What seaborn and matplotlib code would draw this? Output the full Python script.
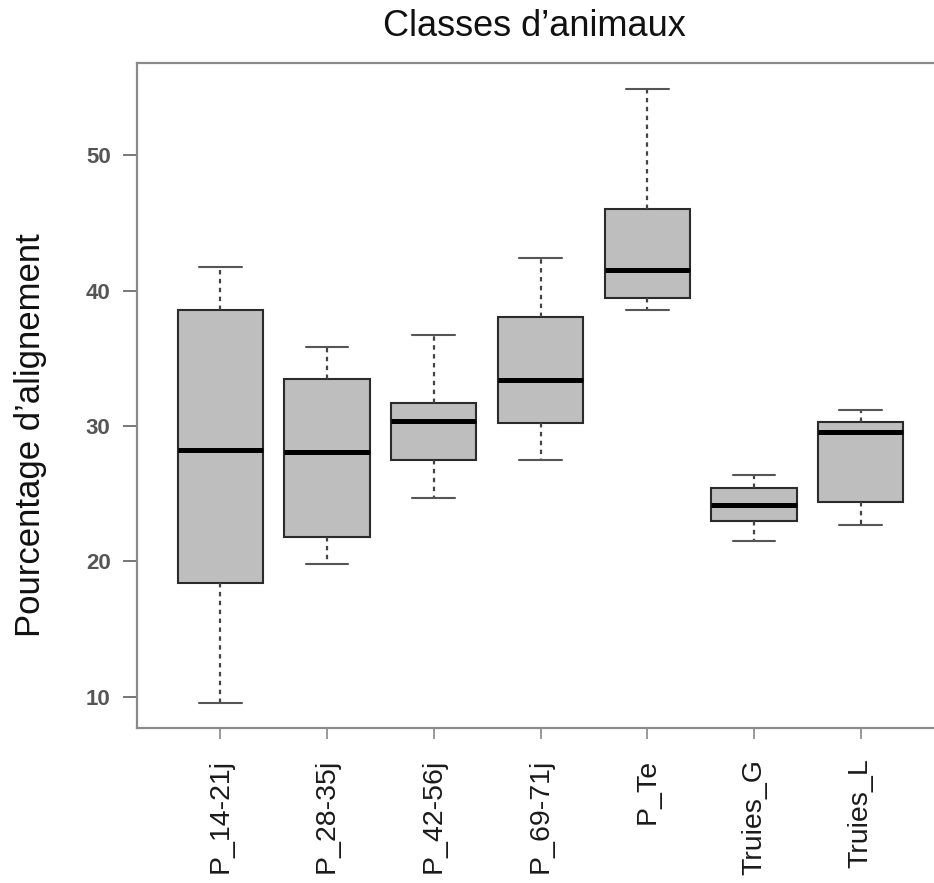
import numpy as np
import pandas as pd
import matplotlib
matplotlib.use("Agg")
import matplotlib.pyplot as plt
import seaborn as sns

# Animal classes and their five-number summaries (min, Q1, median, Q3, max)
classes = ["P_14-21j", "P_28-35j", "P_42-56j", "P_69-71j", "P_Te", "Truies_G", "Truies_L"]
p_14_21j = [9.54, 18.4, 28.2, 38.6, 41.78]
p_28_35j = [19.8, 21.8, 28.04, 33.44, 35.8]
p_42_56j = [24.7, 27.45, 30.37, 31.67, 36.7]
p_69_71j = [27.45, 30.25, 33.36, 38.05, 42.42]
p_te = [38.58, 39.46, 41.55, 46.0, 54.9]
truies_g = [21.53, 22.95, 24.18, 25.41, 26.39]
truies_l = [22.71, 24.38, 29.58, 30.32, 31.18]
y_ticks = [10, 20, 30, 40, 50]

summaries = [p_14_21j, p_28_35j, p_42_56j, p_69_71j, p_te, truies_g, truies_l]
df = pd.DataFrame({
    "classe": np.repeat(classes, [len(s) for s in summaries]),
    "pourcentage": np.concatenate(summaries),
})

sns.set_style("white")
plt.rcParams["font.family"] = ["Liberation Sans", "DejaVu Sans"]

fig = plt.figure(figsize=(9.34, 8.83), dpi=100)
ax = fig.add_axes([137 / 934, 1 - 728 / 883, (944 - 137) / 934, (728 - 63) / 883])

sns.boxplot(
    data=df, x="classe", y="pourcentage", order=classes, ax=ax,
    color="#BEBEBE", saturation=1, width=0.8, whis=(0, 100),
    linecolor="#2b2b2b", linewidth=1.5,
    medianprops=dict(color="black", linewidth=3.6),
    whiskerprops=dict(color="#444444", linewidth=1.6, linestyle=(0, (2.0, 2.0))),
    capprops=dict(color="#555555", linewidth=1.5),
)

ax.set_xlim(-0.78, 6.78)
ax.set_ylim(7.68, 56.82)
ax.set_yticks(y_ticks)
ax.set_yticklabels([str(t) for t in y_ticks], fontsize=16, fontweight="bold", color="#555555")
ax.set_xticks(range(len(classes)))
ax.set_xticklabels(classes, rotation=90, fontsize=20.5, color="#1a1a1a")
ax.set_xlabel("")
ax.set_ylabel("")

for side in ["left", "bottom", "top"]:
    ax.spines[side].set_visible(True)
    ax.spines[side].set_color("#8a8a8a")
    ax.spines[side].set_linewidth(1.6)
ax.spines["right"].set_visible(False)

ax.tick_params(axis="y", length=10, width=1.4, color="#777777", pad=9, left=True)
ax.tick_params(axis="x", length=8, width=1.4, color="#999999", pad=14, bottom=True)

fig.text(534 / 934, 1 - 27 / 883, "Classes d\u2019animaux", ha="center", va="center",
         fontsize=26, color="#111111")
fig.text(31 / 934, 1 - 435 / 883, "Pourcentage d\u2019alignement", rotation=90,
         ha="center", va="center", fontsize=25, color="#111111")

fig.savefig("out.png", dpi=100)
